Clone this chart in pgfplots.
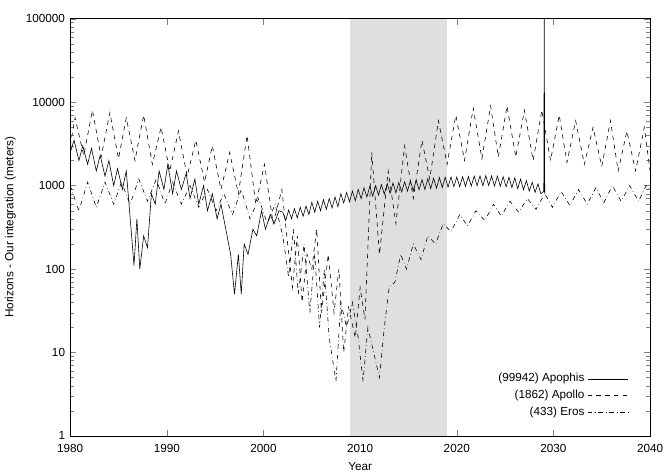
\documentclass[border=0pt]{standalone}
\usepackage{pgfplots}
\pgfplotsset{compat=1.18}
\usepackage{fontspec}
\setmainfont{Liberation Sans}
\begin{document}
\begin{tikzpicture}
\begin{axis}[scale only axis, width=13.9cm, height=10.0cm,
 ymode=log, xmin=1980, xmax=2040, ymin=1, ymax=100000,
 xtick={1980,1990,...,2040}, xticklabel style={/pgf/number format/1000 sep={}, yshift=-2pt},
 ytick={1,10,100,1000,10000,100000}, yticklabels={1,10,100,1000,10000,100000},
 /pgf/number format/assume math mode=true,
 tick align=inside, font=\fontsize{8}{9}\selectfont,
 xlabel={Year}, ylabel={Horizons - Our integration (meters)},
 legend pos=south east, legend style={draw=none, fill=none, font=\fontsize{8}{9}\selectfont}, legend cell align=right,
 legend style={legend plot pos=right}, legend image post style={xscale=1.6}]
\fill[gray!25] (axis cs:2009,1) rectangle (axis cs:2019,100000);
\addplot[black, thin] coordinates {(1980,2500)(1980.4,3500)(1980.9,2000)(1981.3,3000)(1981.8,1800)(1982.2,2800)(1982.7,1500)(1983.1,2300)(1983.6,1300)(1984,2000)(1984.5,1000)(1984.9,1600)(1985.4,900)(1985.8,1500)(1986.3,300)(1986.6,110)(1986.9,400)(1987.2,100)(1987.6,250)(1988,180)(1988.4,800)(1988.8,600)(1989.2,1500)(1989.7,900)(1990.1,1800)(1990.6,800)(1991,1500)(1991.5,900)(1992,1400)(1992.4,700)(1992.9,1200)(1993.3,600)(1993.8,1000)(1994.2,500)(1994.7,800)(1995.2,400)(1995.6,600)(1996.1,300)(1996.6,150)(1997,50)(1997.4,150)(1997.7,50)(1998,200)(1998.4,150)(1998.9,300)(1999.3,250)(1999.8,500)(2000.2,300)(2000.7,450)(2001.1,350)(2001.6,500)
(2002.0,480)(2002.3,380)(2002.6,510)(2002.9,400)(2003.2,530)(2003.5,410)(2003.8,550)(2004.1,430)(2004.4,570)(2004.7,450)(2005.0,630)(2005.3,480)(2005.6,650)(2005.9,500)(2006.2,680)(2006.5,520)(2006.8,700)(2007.1,540)(2007.4,730)(2007.7,560)(2008.0,800)(2008.3,620)(2008.6,830)(2008.9,640)(2009.2,860)(2009.5,660)(2009.8,900)(2010.1,700)(2010.4,940)(2010.7,730)(2011.0,980)(2011.3,750)(2011.6,1000)(2011.9,770)(2012.2,1030)(2012.5,790)(2012.8,1060)(2013.1,810)(2013.4,1080)(2013.7,820)(2014.0,1090)(2014.3,840)(2014.6,1110)(2014.9,860)(2015.2,1140)(2015.5,870)(2015.8,1160)(2016.1,890)(2016.4,1180)(2016.7,900)(2017.0,1210)(2017.3,920)(2017.6,1230)(2017.9,930)(2018.2,1250)(2018.5,950)(2018.8,1260)(2019.1,960)(2019.4,1270)(2019.7,970)(2020.0,1270)(2020.3,970)(2020.6,1280)(2020.9,980)(2021.2,1290)(2021.5,990)(2021.8,1300)(2022.1,1000)(2022.4,1310)(2022.7,1000)(2023.0,1320)(2023.3,1000)(2023.6,1310)(2023.9,990)(2024.2,1300)(2024.5,980)(2024.8,1280)(2025.1,970)(2025.4,1260)(2025.7,950)(2026.0,1240)(2026.3,920)(2026.6,1200)(2026.9,890)(2027.2,1150)(2027.5,860)(2027.8,1100)(2028.1,830)(2028.4,1050)(2028.7,800)(2029.0,850)(2029.05,100000)(2029.1,800)};
\addlegendentry{(99942) Apophis}
\addplot[black, thin, dashed] coordinates {(1980,3000)(1980.5,6500)(1981.4,2300)(1982.3,8000)(1983.2,2200)(1984.1,7500)(1985,2100)(1985.8,6500)(1986.7,2000)(1987.6,7000)(1988.5,1800)(1989.4,5000)(1990.3,1500)(1991.2,4500)(1992.1,1300)(1993,3500)(1993.9,1100)(1994.7,3000)(1995.6,900)(1996.5,2500)(1997.4,800)(1998.3,4000)(1999.2,600)(2000.1,1800)(2001,350)(2001.9,900)(2002.5,200)(2003,60)(2003.5,250)(2004,40)(2004.5,150)(2005,100)(2005.5,300)(2006,30)(2006.7,150)(2007.3,30)(2007.8,100)(2008.3,10)(2008.8,35)(2009.5,15)(2010,60)(2010.5,25)(2011.2,2500)(2012,150)(2012.9,1500)(2013.7,350)(2014.6,3000)(2015.5,700)(2016.4,3500)(2017.2,1200)(2018.1,6000)(2019,1800)(2019.9,7000)(2020.8,2000)(2021.7,8500)(2022.6,2100)(2023.5,9000)(2024.3,2200)(2025.2,9000)(2026.1,2200)(2027,8000)(2027.9,2000)(2028.8,8000)(2029.7,2000)(2030.6,7000)(2031.4,1900)(2032.3,6000)(2033.2,1800)(2034.1,5000)(2035,1700)(2035.9,6000)(2036.7,1500)(2037.6,4500)(2038.5,1500)(2039.4,5000)(2040,1500)};
\addlegendentry{(1862) Apollo}
\addplot[black, thin, dash dot] coordinates {(1980,1000)(1980.9,500)(1981.8,1100)(1982.7,550)(1983.6,1100)(1984.5,600)(1985.3,1100)(1986.2,600)(1987.1,1200)(1988,650)(1988.9,1200)(1989.8,600)(1990.6,1100)(1991.5,600)(1992.4,1000)(1993.3,550)(1994.2,900)(1995.1,500)(1995.9,800)(1996.8,450)(1997.7,900)(1998.6,400)(1999.5,700)(2000.4,350)(2001.2,600)(2002,250)(2002.6,80)(2003.1,300)(2003.6,50)(2004.2,200)(2004.8,30)(2005.3,150)(2005.8,20)(2006.3,100)(2006.8,15)(2007.5,4.5)(2008,40)(2008.6,20)(2009.2,40)(2009.8,15)(2010.3,4.5)(2010.8,20)(2011.4,10)(2012,5)(2012.5,20)(2013,60)(2013.6,70)(2014.2,150)(2014.8,100)(2015.5,200)(2016.3,130)(2017,250)(2017.8,200)(2018.6,350)(2019.4,280)(2020.3,450)(2021.1,330)(2022,500)(2022.9,380)(2023.8,600)(2024.6,430)(2025.5,650)(2026.4,480)(2027.3,700)(2028.2,520)(2029.1,800)(2029.9,550)(2030.8,850)(2031.7,580)(2032.6,900)(2033.5,600)(2034.4,950)(2035.2,620)(2036.1,1000)(2037,650)(2037.9,1000)(2038.8,650)(2039.6,1000)(2040,900)};
\addlegendentry{(433) Eros}
\end{axis}
\path (current axis.north east) ++(0.1cm,0.45cm);
\end{tikzpicture}
\end{document}
